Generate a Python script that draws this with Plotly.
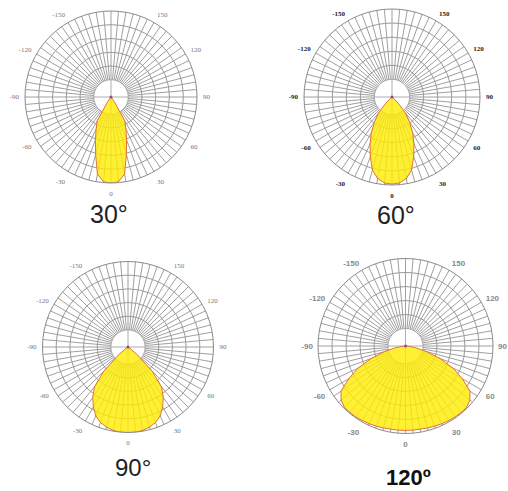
import plotly.graph_objects as go

# ---------------- data ----------------
ANGLES = [-90, -85, -80, -75, -70, -65, -60, -55, -50, -45, -40, -35, -30, -25, -20, -15, -10, -5,
          0, 5, 10, 15, 20, 25, 30, 35, 40, 45, 50, 55, 60, 65, 70, 75, 80, 85, 90]

# relative intensity (fraction of outer circle) for each angle
LOBE_30 = [0, 0, 0, 0, 0, 0, 0, 0, 0, 0, 0, 0.07, 0.32, 0.41, 0.53, 0.69, 0.91, 0.99,
           1.0, 0.99, 0.91, 0.69, 0.53, 0.41, 0.32, 0.07, 0, 0, 0, 0, 0, 0, 0, 0, 0, 0, 0]
LOBE_60 = [0, 0, 0, 0, 0, 0, 0, 0, 0.02, 0.10, 0.24, 0.35, 0.47, 0.59, 0.72, 0.86, 0.94, 0.98,
           0.99, 0.98, 0.94, 0.86, 0.72, 0.59, 0.47, 0.35, 0.24, 0.10, 0.02, 0, 0, 0, 0, 0, 0, 0, 0]
LOBE_90 = [0, 0, 0, 0, 0, 0, 0, 0.03, 0.15, 0.40, 0.61, 0.72, 0.81, 0.89, 0.94, 0.97, 0.99, 1.0,
           1.0, 1.0, 0.99, 0.97, 0.94, 0.89, 0.81, 0.72, 0.61, 0.40, 0.15, 0.03, 0, 0, 0, 0, 0, 0, 0]
LOBE_120 = [0, 0.03, 0.12, 0.25, 0.42, 0.60, 0.75, 0.90, 0.96, 0.99, 0.99, 0.99, 0.985, 0.98, 0.975, 0.97, 0.965, 0.965,
            0.965, 0.965, 0.965, 0.97, 0.975, 0.98, 0.985, 0.99, 0.99, 0.99, 0.96, 0.90, 0.75, 0.60, 0.42, 0.25, 0.12, 0.03, 0]

TITLES = ["30°", "60°", "90°", "120º"]
LABEL_ANGLES = [0, 30, 60, 90, 120, 150, 210, 240, 270, 300, 330]
LABEL_TEXT = ["0", "30", "60", "90", "120", "150", "-150", "-120", "-90", "-60", "-30"]
SPOKE_STEP = 5
HOLE = 0.2
RINGS = [0.36, 0.52, 0.68, 0.84]

LOBES = [LOBE_30, LOBE_60, LOBE_90, LOBE_120]

# ---------------- layout helpers ----------------
W, H = 508, 491
# (center x px, center y px, radius px)
PANELS = [(111, 97, 86), (392, 97, 88), (128, 347, 85.5), (405.5, 346, 87.5)]
TICK_PAD = [4, 4, 4, 3]
TITLE_POS = [(109, 214), (396, 215), (133, 467), (408, 477)]
TITLE_FONT = [dict(family="Liberation Sans", size=25, color="#222"),
              dict(family="Liberation Sans", size=25, color="#222"),
              dict(family="Liberation Sans", size=24, color="#222"),
              dict(family="Liberation Sans", size=22, color="#111", weight="bold")]
TICK_FONT = [dict(family="Liberation Serif", size=7, color="#777"),
             dict(family="Liberation Serif", size=7, color="#222", weight="bold"),
             dict(family="Liberation Serif", size=7, color="#777"),
             dict(family="Liberation Sans", size=8, color="#888", weight="bold")]

label_map = dict(zip(LABEL_ANGLES, LABEL_TEXT))
spoke_vals = list(range(0, 360, SPOKE_STEP))
spoke_text = [label_map.get(a, "") for a in spoke_vals]

circle_theta = list(range(0, 361, 5))

fig = go.Figure()
layout = dict(width=W, height=H, margin=dict(l=0, r=0, t=0, b=0),
              paper_bgcolor="white", showlegend=False, annotations=[])

for i, (cx, cy, R) in enumerate(PANELS):
    pname = "polar" if i == 0 else f"polar{i+1}"
    sub = pname
    dom = dict(x=[(cx - R) / W, (cx + R) / W], y=[1 - (cy + R) / H, 1 - (cy - R) / H])
    layout[pname] = dict(
        domain=dom,
        bgcolor="white",
        angularaxis=dict(rotation=270, direction="counterclockwise",
                         tickmode="array", tickvals=spoke_vals, ticktext=spoke_text,
                         ticks="outside", ticklen=TICK_PAD[i], tickcolor="rgba(0,0,0,0)",
                         showline=True, linecolor="#8a8a8a", linewidth=1,
                         gridcolor="#a0a0a0", gridwidth=0.7, tickfont=TICK_FONT[i]),
        radialaxis=dict(range=[0, 1], tickmode="array", tickvals=RINGS,
                        showticklabels=False, ticks="", showline=False,
                        gridcolor="#9a9a9a", gridwidth=0.8),
    )
    # white hole
    fig.add_trace(go.Scatterpolar(r=[HOLE] * len(circle_theta), theta=circle_theta, mode="lines",
                                  fill="toself", fillcolor="white",
                                  line=dict(color="#9a9a9a", width=0.8),
                                  subplot=sub, hoverinfo="skip"))
    # crosshair in hole
    fig.add_trace(go.Scatterpolar(r=[HOLE, HOLE, None, HOLE, HOLE], theta=[90, 270, None, 0, 180],
                                  mode="lines", line=dict(color="#999", width=0.8),
                                  subplot=sub, hoverinfo="skip"))
    # lobe
    fig.add_trace(go.Scatterpolar(r=LOBES[i], theta=ANGLES, mode="lines", fill="toself",
                                  fillcolor="rgba(255,236,0,0.8)",
                                  line=dict(color="#e4703a", width=1),
                                  subplot=sub))
    # center dot
    fig.add_trace(go.Scatterpolar(r=[0], theta=[0], mode="markers",
                                  marker=dict(color="#8a4f8f", size=3),
                                  subplot=sub, hoverinfo="skip"))
    tx, ty = TITLE_POS[i]
    layout["annotations"].append(dict(text=TITLES[i], x=tx / W, y=1 - ty / H, xref="paper", yref="paper",
                                      xanchor="center", yanchor="middle", showarrow=False,
                                      font=TITLE_FONT[i]))

fig.update_layout(**layout)
fig.write_html("out.html", config={"displayModeBar": False},
               post_script="document.body.style.margin='0';")
